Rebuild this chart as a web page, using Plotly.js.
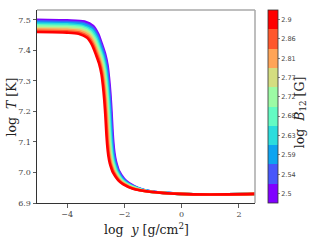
<!DOCTYPE html>
<html>
<head>
<meta charset="utf-8">
<script src="https://cdn.plot.ly/plotly-3.0.1.min.js"></script>
<style>html,body{margin:0;padding:0;background:#fff;}#chart{width:314px;height:245px;}</style>
</head>
<body>
<div id="chart"></div>
<script>
// log B12 values of the ten curves (purple -> red)
const logB = [2.5, 2.544, 2.589, 2.633, 2.678, 2.722, 2.767, 2.811, 2.856, 2.9];
const cbTickText = ["2.5", "2.54", "2.59", "2.63", "2.68", "2.72", "2.77", "2.81", "2.86", "2.9"];
const rainbow = ["#8000ff", "#4757fb", "#0ea4f0", "#2bdddd", "#63fbc3", "#9cfba4", "#d4dd80", "#ffa457", "#ff572c", "#ff0000"];

// log y [g/cm^2] and log T [K] for each curve
const x_b0 = [-5.05, -4.0, -3.39, -3.09, -2.92, -2.78, -2.675, -2.59, -2.54, -2.49, -2.45, -2.42, -2.39, -2.35, -2.30, -2.24, -2.19, -2.01, -1.84, -1.49, -1.11, -0.06, 0.98, 2.56];
const T_b0 = [7.500, 7.498, 7.494, 7.480, 7.455, 7.419, 7.389, 7.352, 7.312, 7.258, 7.199, 7.145, 7.102, 7.065, 7.038, 7.018, 7.005, 6.979, 6.965, 6.948, 6.938, 6.930, 6.928, 6.930];
const x_b1 = [-5.05, -4.0, -3.413, -3.113, -2.943, -2.803, -2.698, -2.613, -2.563, -2.513, -2.473, -2.443, -2.413, -2.373, -2.323, -2.263, -2.213, -2.033, -1.863, -1.513, -1.11, -0.06, 0.98, 2.56];
const T_b1 = [7.496, 7.493, 7.489, 7.475, 7.451, 7.415, 7.386, 7.348, 7.309, 7.255, 7.197, 7.144, 7.101, 7.063, 7.037, 7.018, 7.005, 6.978, 6.964, 6.948, 6.938, 6.930, 6.928, 6.930];
const x_b2 = [-5.05, -4.0, -3.437, -3.137, -2.967, -2.827, -2.722, -2.637, -2.587, -2.537, -2.497, -2.467, -2.437, -2.397, -2.347, -2.287, -2.237, -2.057, -1.887, -1.537, -1.11, -0.06, 0.98, 2.56];
const T_b2 = [7.491, 7.489, 7.485, 7.471, 7.447, 7.412, 7.382, 7.345, 7.306, 7.253, 7.195, 7.142, 7.099, 7.062, 7.036, 7.017, 7.004, 6.978, 6.964, 6.948, 6.938, 6.930, 6.928, 6.930];
const x_b3 = [-5.05, -4.0, -3.46, -3.16, -2.99, -2.85, -2.745, -2.66, -2.61, -2.56, -2.52, -2.49, -2.46, -2.42, -2.37, -2.31, -2.26, -2.08, -1.91, -1.56, -1.11, -0.06, 0.98, 2.56];
const T_b3 = [7.487, 7.485, 7.480, 7.467, 7.443, 7.408, 7.378, 7.342, 7.303, 7.250, 7.193, 7.140, 7.098, 7.061, 7.035, 7.016, 7.004, 6.977, 6.964, 6.948, 6.937, 6.930, 6.928, 6.930];
const x_b4 = [-5.05, -4.0, -3.483, -3.183, -3.013, -2.873, -2.768, -2.683, -2.633, -2.583, -2.543, -2.513, -2.483, -2.443, -2.393, -2.333, -2.283, -2.103, -1.933, -1.583, -1.11, -0.06, 0.98, 2.56];
const T_b4 = [7.482, 7.480, 7.476, 7.462, 7.438, 7.404, 7.375, 7.338, 7.300, 7.248, 7.191, 7.138, 7.097, 7.060, 7.034, 7.016, 7.003, 6.977, 6.963, 6.948, 6.937, 6.930, 6.928, 6.930];
const x_b5 = [-5.05, -4.0, -3.507, -3.207, -3.037, -2.897, -2.792, -2.707, -2.657, -2.607, -2.567, -2.537, -2.507, -2.467, -2.417, -2.357, -2.307, -2.127, -1.957, -1.607, -1.11, -0.06, 0.98, 2.56];
const T_b5 = [7.478, 7.476, 7.472, 7.458, 7.434, 7.400, 7.371, 7.335, 7.297, 7.245, 7.188, 7.137, 7.095, 7.059, 7.033, 7.015, 7.002, 6.977, 6.963, 6.948, 6.937, 6.930, 6.928, 6.930];
const x_b6 = [-5.05, -4.0, -3.53, -3.23, -3.06, -2.92, -2.815, -2.73, -2.68, -2.63, -2.59, -2.56, -2.53, -2.49, -2.44, -2.38, -2.33, -2.15, -1.98, -1.63, -1.11, -0.06, 0.98, 2.56];
const T_b6 = [7.473, 7.471, 7.467, 7.454, 7.430, 7.396, 7.368, 7.332, 7.294, 7.243, 7.186, 7.135, 7.094, 7.058, 7.033, 7.014, 7.002, 6.976, 6.963, 6.947, 6.937, 6.930, 6.928, 6.930];
const x_b7 = [-5.05, -4.0, -3.553, -3.253, -3.083, -2.943, -2.838, -2.753, -2.703, -2.653, -2.613, -2.583, -2.553, -2.513, -2.463, -2.403, -2.353, -2.173, -2.003, -1.653, -1.11, -0.06, 0.98, 2.56];
const T_b7 = [7.469, 7.467, 7.463, 7.450, 7.426, 7.393, 7.364, 7.329, 7.291, 7.240, 7.184, 7.133, 7.093, 7.057, 7.032, 7.013, 7.001, 6.976, 6.963, 6.947, 6.937, 6.930, 6.928, 6.930];
const x_b8 = [-5.05, -4.0, -3.577, -3.277, -3.107, -2.967, -2.862, -2.777, -2.727, -2.677, -2.637, -2.607, -2.577, -2.537, -2.487, -2.427, -2.377, -2.197, -2.027, -1.677, -1.11, -0.06, 0.98, 2.56];
const T_b8 = [7.464, 7.462, 7.458, 7.445, 7.422, 7.389, 7.361, 7.325, 7.288, 7.238, 7.182, 7.132, 7.091, 7.056, 7.031, 7.013, 7.001, 6.975, 6.962, 6.947, 6.937, 6.930, 6.928, 6.930];
const x_b9 = [-5.05, -4.0, -3.6, -3.3, -3.13, -2.99, -2.885, -2.8, -2.75, -2.7, -2.66, -2.63, -2.6, -2.56, -2.51, -2.45, -2.4, -2.22, -2.05, -1.7, -1.11, -0.06, 0.98, 2.56];
const T_b9 = [7.460, 7.458, 7.454, 7.441, 7.418, 7.385, 7.357, 7.322, 7.285, 7.235, 7.18, 7.13, 7.09, 7.055, 7.03, 7.012, 7.000, 6.975, 6.962, 6.947, 6.937, 6.930, 6.928, 6.930];

const xTickVals = [-4, -2, 0, 2];
const xTickText = ["\u22124", "\u22122", "0", "2"];
const yTickVals = [6.9, 7.0, 7.1, 7.2, 7.3, 7.4, 7.5];
const yTickText = ["6.9", "7.0", "7.1", "7.2", "7.3", "7.4", "7.5"];

const xs = [x_b0, x_b1, x_b2, x_b3, x_b4, x_b5, x_b6, x_b7, x_b8, x_b9];
const Ts = [T_b0, T_b1, T_b2, T_b3, T_b4, T_b5, T_b6, T_b7, T_b8, T_b9];

const traces = xs.map((xv, i) => ({
  type: 'scatter', mode: 'lines', x: xv, y: Ts[i],
  line: {color: rainbow[i], width: 2.6, shape: 'spline', smoothing: 0.8},
  hoverinfo: 'skip', showlegend: false
}));

const n = rainbow.length;
const step = (logB[n-1] - logB[0]) / (n - 1);
const cscale = [];
rainbow.forEach((c, i) => { cscale.push([i / n, c]); cscale.push([(i + 1) / n, c]); });

traces.push({
  type: 'scatter', mode: 'markers', x: [-20], y: [0],
  marker: {
    color: [logB[0]], colorscale: cscale, cmin: logB[0] - step / 2, cmax: logB[n-1] + step / 2,
    showscale: true, size: 1,
    colorbar: {
      x: 1.06, xanchor: 'left', xref: 'paper', y: 0.5, yanchor: 'middle', len: 1, lenmode: 'fraction',
      thickness: 10, thicknessmode: 'pixels', outlinewidth: 0.8, outlinecolor: '#333',
      tickmode: 'array', tickvals: logB, ticktext: cbTickText,
      ticks: 'outside', ticklen: 2, tickwidth: 0.6, tickcolor: '#333',
      tickfont: {family: 'DejaVu Sans', size: 6.5, color: '#444'}, xpad: 0, ypad: 0
    }
  },
  hoverinfo: 'skip', showlegend: false
});

const tickFont = {family: 'DejaVu Serif', size: 8, color: '#444'};

const layout = {
  width: 314, height: 245,
  margin: {l: 37, r: 59, t: 10, b: 42},
  paper_bgcolor: '#fff', plot_bgcolor: '#fff',
  xaxis: {
    range: [-5.05, 2.56], showgrid: false, zeroline: false,
    showline: true, linecolor: '#333', linewidth: 1,
    ticks: 'outside', ticklen: 3.5, tickwidth: 0.8, tickcolor: '#333',
    tickmode: 'array', tickvals: xTickVals, ticktext: xTickText, tickfont: tickFont
  },
  yaxis: {
    range: [6.9, 7.532], showgrid: false, zeroline: false,
    showline: true, linecolor: '#333', linewidth: 1,
    ticks: 'outside', ticklen: 3.5, tickwidth: 0.8, tickcolor: '#333',
    tickmode: 'array', tickvals: yTickVals, ticktext: yTickText, tickfont: tickFont
  },
  shapes: [
    {type: 'line', xref: 'paper', yref: 'paper', x0: 0, x1: 1, y0: 1, y1: 1, line: {color: '#a8a8a8', width: 1.5}},
    {type: 'line', xref: 'paper', yref: 'paper', x0: 1, x1: 1, y0: 0, y1: 1, line: {color: '#a8a8a8', width: 1.5}}
  ],
  annotations: [
    {xref: 'paper', yref: 'paper', x: 0.5, y: -0.135, xanchor: 'center', yanchor: 'middle', showarrow: false,
     text: 'log  <i>y</i> [g/cm<sup>2</sup>]', font: {family: 'DejaVu Serif', size: 12.5, color: '#222'}},
    {xref: 'paper', yref: 'paper', x: -0.115, y: 0.5, xanchor: 'center', yanchor: 'middle', showarrow: false, textangle: -90,
     text: 'log  <i>T</i> [K]', font: {family: 'DejaVu Serif', size: 12.5, color: '#222'}},
    {xref: 'paper', yref: 'paper', x: 1.206, y: 0.47, xanchor: 'center', yanchor: 'middle', showarrow: false, textangle: -90,
     text: 'log  <i>B</i><sub>12</sub> [G]', font: {family: 'DejaVu Serif', size: 12.5, color: '#222'}}
  ]
};

Plotly.newPlot('chart', traces, layout, {staticPlot: true, displayModeBar: false});
</script>
</body>
</html>
